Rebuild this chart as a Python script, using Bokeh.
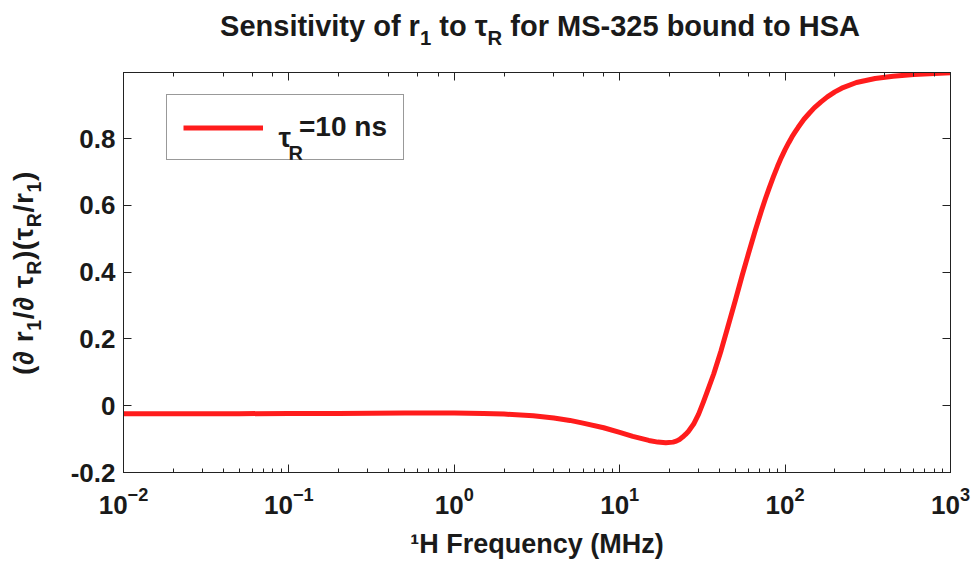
from bokeh.plotting import figure
from bokeh.models import (Label, Legend, LegendItem, LogAxis, LinearAxis, FixedTicker,
                          LogTicker, CustomJSTickFormatter, Range1d, ColumnDataSource, Div)
from bokeh.layouts import column, row
from bokeh.embed import file_html
from bokeh.resources import INLINE

# ---- data ----
freq_mhz = [0.01, 0.02, 0.05, 0.1, 0.2, 0.5, 1.0, 1.5, 2.0, 3.0, 4.0, 5.0, 6.0, 8.0,
            10.0, 12.0, 15.0, 17.0, 19.0, 21.0, 22.0, 23.0, 24.0, 25.0, 26.0, 28.0,
            30.0, 32.0, 34.0, 37.0, 41.0, 45.0, 50.0, 55.0, 60.0, 66.0, 72.0, 76.0,
            80.0, 85.0, 90.0, 95.0, 100.0, 105.0, 110.0, 115.0, 120.0, 130.0, 140.0,
            150.0, 165.0, 180.0, 200.0, 220.0, 270.0, 350.0, 450.0, 600.0, 800.0,
            1000.0]
sensitivity = [-0.024, -0.024, -0.024, -0.023, -0.023, -0.022, -0.022, -0.023, -0.025,
               -0.030, -0.037, -0.044, -0.052, -0.066, -0.080, -0.092, -0.104, -0.109,
               -0.111, -0.109, -0.106, -0.101, -0.094, -0.086, -0.077, -0.055, -0.025,
               0.010, 0.045, 0.095, 0.165, 0.235, 0.315, 0.390, 0.455, 0.525, 0.585,
               0.620, 0.651, 0.686, 0.717, 0.744, 0.767, 0.787, 0.805, 0.820, 0.834,
               0.858, 0.876, 0.892, 0.910, 0.925, 0.940, 0.951, 0.968, 0.980, 0.987,
               0.992, 0.995, 0.997]
ytick_vals = [-0.2, 0, 0.2, 0.4, 0.6, 0.8]
ytick_labels = ["-0.2", "0", "0.2", "0.4", "0.6", "0.8"]
legend_label = "=10 ns"
title_html = "Sensitivity of r<sub>1</sub> to &tau;<sub>R</sub> for MS-325 bound to HSA"
ylabel_html = ("(&part; r<sub>1</sub>/&part; &tau;<sub>R</sub>)"
               "(&tau;<sub>R</sub>/r<sub>1</sub>)")
xlabel = "¹H Frequency (MHz)"

FONT = "Liberation Sans"
TXT = "#1a1a1a"
AX = "#222222"

WIDTH, HEIGHT = 972, 561
TITLE_H = 60
YLAB_W = 60
PW, PH = WIDTH - YLAB_W, HEIGHT - TITLE_H

p = figure(width=PW, height=PH, x_axis_type="log",
           x_range=Range1d(0.01, 1000), y_range=Range1d(-0.2, 0.998),
           output_backend="svg", toolbar_location=None,
           min_border_left=63, min_border_right=22, min_border_top=12, min_border_bottom=89)
p.margin = 0
p.background_fill_color = "white"
p.border_fill_color = "white"
p.outline_line_color = AX
p.outline_line_width = 1
p.xgrid.visible = False
p.ygrid.visible = False

src = ColumnDataSource(dict(f=freq_mhz, v=sensitivity))
r = p.line('f', 'v', source=src, line_color="#ff1c1c", line_width=5, line_join="round")

for ax in (p.xaxis[0], p.yaxis[0]):
    ax.axis_line_color = AX
    ax.major_tick_line_color = AX
    ax.minor_tick_line_color = AX
    ax.major_tick_in = 8
    ax.major_tick_out = 0
    ax.minor_tick_in = 4
    ax.minor_tick_out = 0
    ax.major_label_text_font = FONT
    ax.major_label_text_font_style = "bold"
    ax.major_label_text_font_size = "26px"
    ax.major_label_text_color = TXT

p.yaxis.ticker = FixedTicker(ticks=ytick_vals)
p.yaxis.major_label_overrides = dict(zip(ytick_vals, ytick_labels))
p.yaxis.major_label_standoff = 8
p.xaxis.major_label_standoff = 14
p.xaxis.axis_label = xlabel
p.xaxis.axis_label_text_font = FONT
p.xaxis.axis_label_text_font_style = "bold"
p.xaxis.axis_label_text_font_size = "27px"
p.xaxis.axis_label_text_color = TXT
p.xaxis.axis_label_standoff = 12

blank = CustomJSTickFormatter(code="return ''")
top = LogAxis(ticker=LogTicker(), formatter=blank, major_tick_in=8, major_tick_out=0,
              minor_tick_in=4, minor_tick_out=0, major_label_text_font_size="1px",
              major_label_standoff=0, axis_line_color=AX, major_tick_line_color=AX,
              minor_tick_line_color=AX)
p.add_layout(top, "above")
right = LinearAxis(ticker=FixedTicker(ticks=ytick_vals), formatter=blank, major_tick_in=8,
                   major_tick_out=0, minor_tick_out=0, minor_tick_in=0,
                   major_label_text_font_size="1px", major_label_standoff=0,
                   axis_line_color=AX, major_tick_line_color=AX)
p.add_layout(right, "right")

# ---- legend (transparent fill so the tau_R label beneath shows) ----
legend = Legend(items=[LegendItem(label=legend_label, renderers=[r])],
                location=(43, 312), glyph_width=80, glyph_height=31, label_height=31,
                label_standoff=36, padding=16, margin=0, border_line_color="#333333",
                border_line_width=1, label_text_font=FONT, label_text_font_style="bold",
                label_text_font_size="28px", label_text_color=TXT,
                background_fill_alpha=0.0)
p.add_layout(legend)

FL, FB = 63, 89   # frame offsets inside the figure


def lab(text, cx, cy, size):
    # cx, cy: page position of the text's baseline start
    p.add_layout(Label(x=cx - YLAB_W - FL, y=HEIGHT - FB - cy, x_units="screen",
                       y_units="screen", text=text, text_font=FONT,
                       text_font_style="bold", text_font_size=f"{size}px",
                       text_color=TXT, text_align="left", text_baseline="alphabetic"))


# tau_R in the legend, before "=10 ns"
lab("τ", 278, 137, 28)
lab("R", 288, 152, 20)

# ---- title and rotated y label as HTML (they need subscripts) ----
sub_css = "<style>sub{font-size:0.7em;vertical-align:-0.42em;line-height:0}</style>"
title_div = Div(
    text=sub_css + (f'<div style="position:absolute;left:108px;width:{WIDTH - 108}px;top:12px;'
                    f'text-align:center;white-space:nowrap;font-family:\'{FONT}\';'
                    f'font-weight:bold;font-size:29px;line-height:29px;color:{TXT};">'
                    f'{title_html}</div>'),
    width=WIDTH, height=TITLE_H, margin=0)

ylab_div = Div(
    text=sub_css + (f'<div style="position:absolute;left:24px;top:{273 - TITLE_H}px;'
                    f'transform:translate(-50%,-50%) rotate(-90deg);white-space:nowrap;'
                    f'font-family:\'{FONT}\';font-weight:bold;font-size:28px;'
                    f'letter-spacing:0.6px;line-height:28px;color:{TXT};">{ylabel_html}</div>'),
    width=YLAB_W, height=PH, margin=0)

layout = column(title_div, row(ylab_div, p, spacing=0), spacing=0)
open("out.html", "w").write(file_html(layout, INLINE))
